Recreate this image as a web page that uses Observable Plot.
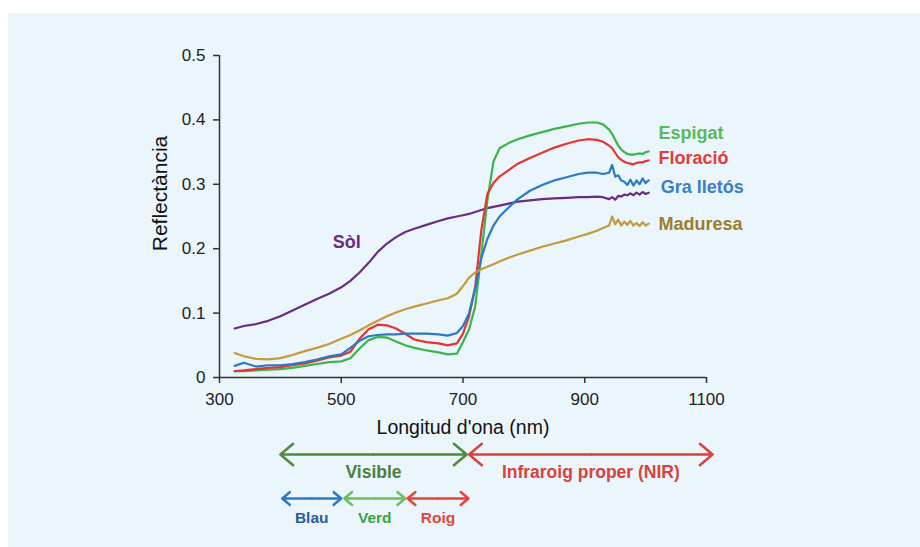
<!DOCTYPE html>
<html>
<head>
<meta charset="utf-8">
<script src="https://cdn.jsdelivr.net/npm/d3@7"></script>
<script src="https://cdn.jsdelivr.net/npm/@observablehq/plot@0.6"></script>
<style>
  html, body { margin: 0; padding: 0; background: #fff; }
  #wrap { position: relative; width: 920px; height: 547px; background: #fff; overflow: hidden; font-family: "Liberation Sans", Arial, sans-serif; }
  #bg { position: absolute; left: 8px; top: 13px; right: 0; bottom: 0; background: #eaf5fc; }
  #p1, #p2 { position: absolute; left: 0; }
  #p1 { top: 0; }
  #p2 { top: 420px; }
  svg { overflow: visible; }
</style>
</head>
<body>
<div id="wrap"><div id="bg"></div><div id="p1"></div><div id="p2"></div></div>
<script>
// ---------- data ----------
const wavelength = [325, 340, 360, 380, 400, 420, 440, 460, 480, 500, 515, 530, 545, 560, 575, 590, 605, 620, 640, 660, 675, 690, 700, 710, 720, 730, 740, 750, 760, 775, 790, 810, 830, 850, 870, 890, 905, 920, 930, 940, 945, 950, 955, 960, 965, 970, 975, 980, 985, 990, 995, 1000, 1005];

const sol = [.076,.080,.083,.088,.095, .104,.113,.122,.130,.140, .150,.163,.178,.195,.208, .218,.226,.231,.237,.243, .247,.250,.252,.254,.257, .260,.263,.265,.267,.270, .273,.275,.277,.278,.279, .280,.280,.281,.280,.277, .280,.276,.282,.281,.284, .283,.286,.283,.287,.284, .288,.285,.287];

const espigat = [.010,.010,.011,.012,.013, .015,.018,.021,.024,.025, .030,.045,.058,.063,.062, .056,.050,.046,.042,.039, .036,.037,.055,.075,.110, .190,.275,.335,.356,.364, .370,.376,.381,.386,.390, .394,.396,.396,.393,.385, .378,.369,.360,.354,.350, .347,.346,.346,.347,.348, .347,.350,.351];

const floracio = [.010,.011,.013,.015,.016, .019,.022,.026,.031,.034, .040,.060,.075,.082,.081, .076,.068,.059,.055,.053, .050,.053,.068,.095,.140, .228,.285,.302,.312,.322, .332,.341,.349,.357,.363, .368,.370,.369,.366,.360, .356,.349,.342,.338,.335, .333,.332,.331,.333,.334, .334,.336,.337];

const graLletos = [.018,.023,.017,.019,.019, .021,.024,.028,.033,.036, .046,.057,.064,.066,.067, .067,.068,.068,.068,.067, .065,.069,.080,.100,.138, .185,.215,.236,.250,.264, .277,.290,.299,.306,.311, .316,.318,.318,.316,.318, .330,.312,.314,.306,.304, .299,.307,.298,.306,.300, .309,.302,.306];

const maduresa = [.038,.033,.029,.028,.030, .035,.041,.046,.052,.060, .066,.073,.081,.088,.095, .101,.106,.110,.115,.120, .123,.130,.142,.155,.163, .168,.172,.176,.180,.186, .191,.197,.203,.208,.213, .219,.223,.228,.232,.236, .250,.238,.245,.236,.242, .237,.243,.236,.240,.235, .241,.236,.239];

const seriesNames = ["Sòl", "Espigat", "Floració", "Gra lletós", "Maduresa"];
const seriesValues = [sol, espigat, floracio, graLletos, maduresa];
// label anchors in data units (nm, reflectance)
const labelWavelength = [509, 1021, 1021, 1025, 1021];
const labelReflectance = [0.210, 0.379, 0.340, 0.295, 0.238];

const xTicks = [300, 500, 700, 900, 1100];
const yTicks = [0, 0.1, 0.2, 0.3, 0.4, 0.5];

const regionNames = ["Visible", "Infraroig proper (NIR)"];
const regionStart = [400, 710];
const regionEnd = [706, 1110];
const bandNames = ["Blau", "Verd", "Roig"];
const bandStart = [403, 505, 609];
const bandEnd = [500, 605, 709];

// ---------- styles ----------
const lineColors = ["#6a2c80", "#3bb54a", "#e8332f", "#2b79c2", "#c49a3c"];
const labelColors = ["#6a2c80", "#5cb85c", "#e53a35", "#3a7fc4", "#9c7d2e"];
const regionArrowColors = ["#4f8a3e", "#d9423a"];
const regionLabelColors = ["#4e7f3c", "#d9423a"];
const bandArrowColors = ["#2f7bc2", "#6cc05e", "#e8433b"];
const bandLabelColors = ["#2c5a98", "#3aa24c", "#e4463e"];

const FONT = "Liberation Sans, Arial, sans-serif";

// ---------- build tables ----------
const lines = seriesNames.map((name, s) =>
  wavelength.map((w, i) => ({name, x: w, y: seriesValues[s][i], s})));
const labels = seriesNames.map((name, s) => ({name, x: labelWavelength[s], y: labelReflectance[s], s}));

const xDomain = [300, 1100];
const W = 920, ML = 219, MR = 214;

const marks1 = [];
lines.forEach((d, s) => {
  marks1.push(Plot.line(d, {x: "x", y: "y", stroke: lineColors[s], strokeWidth: 2.2, strokeLinejoin: "round"}));
});
marks1.push(
  Plot.ruleX([300], {y1: 0, y2: 0.5, stroke: "#333", strokeWidth: 1.5}),
  Plot.ruleY([0], {x1: 300, x2: 1100, stroke: "#333", strokeWidth: 1.5}),
  Plot.axisY({ticks: yTicks, tickSize: 6, tickPadding: 8, fontSize: 17, label: null,
    tickFormat: d => d === 0 ? "0" : d.toFixed(1), stroke: "#333", strokeWidth: 1.5, fill: "#222"}),
  Plot.axisX({ticks: xTicks, tickSize: 6, tickPadding: 9, fontSize: 17, label: null,
    tickFormat: d => String(d), stroke: "#333", strokeWidth: 1.5, fill: "#222"}),
  Plot.text(labels.filter(d => d.s === 0), {x: "x", y: "y", text: "name", fill: d => labelColors[d.s],
    fontSize: 18, fontWeight: "bold", textAnchor: "middle"}),
  Plot.text(labels.filter(d => d.s > 0), {x: "x", y: "y", text: "name", fill: d => labelColors[d.s],
    fontSize: 18, fontWeight: "bold", textAnchor: "start"}),
  Plot.text(["Reflectància"], {frameAnchor: "left", textAnchor: "middle", lineAnchor: "middle",
    rotate: -90, dx: -59, dy: -23, fontSize: 21, fill: "#111"}),
  Plot.text(["Longitud d'ona (nm)"], {frameAnchor: "bottom", textAnchor: "middle", lineAnchor: "middle",
    dy: 50, fontSize: 19.5, fill: "#111"})
);

const plot1 = Plot.plot({
  width: W, height: 440,
  marginLeft: ML, marginRight: MR, marginTop: 55, marginBottom: 63,
  x: {domain: xDomain, axis: null},
  y: {domain: [0, 0.5], axis: null},
  style: {background: "transparent", fontFamily: FONT, overflow: "visible"},
  marks: marks1
});
document.getElementById("p1").appendChild(plot1);

// ---------- arrows ----------
const arrowRows = [];
const arrowLabels = [];
regionNames.forEach((n, i) => {
  const mid = (regionStart[i] + regionEnd[i]) / 2;
  arrowRows.push({x1: mid, x2: regionStart[i], row: "regions", c: regionArrowColors[i]});
  arrowRows.push({x1: mid, x2: regionEnd[i], row: "regions", c: regionArrowColors[i]});
  arrowLabels.push({x: mid, row: "regions", text: n, c: regionLabelColors[i]});
});
bandNames.forEach((n, i) => {
  const mid = (bandStart[i] + bandEnd[i]) / 2;
  arrowRows.push({x1: mid, x2: bandStart[i], row: "bands", c: bandArrowColors[i]});
  arrowRows.push({x1: mid, x2: bandEnd[i], row: "bands", c: bandArrowColors[i]});
  arrowLabels.push({x: mid, row: "bands", text: n, c: bandLabelColors[i]});
});

const plot2 = Plot.plot({
  width: W, height: 127,
  marginLeft: ML, marginRight: MR, marginTop: 34, marginBottom: 49,
  x: {domain: xDomain, axis: null},
  y: {type: "point", domain: ["regions", "bands"], padding: 0, axis: null},
  style: {background: "transparent", fontFamily: FONT, overflow: "visible"},
  marks: [
    Plot.arrow(arrowRows, {x1: "x1", x2: "x2", y1: "row", y2: "row", stroke: d => d.c,
      strokeWidth: 2.5, headLength: 10, headAngle: 80, bend: 0, clip: false}),
    Plot.text(arrowLabels.filter(d => d.row === "regions"), {x: "x", y: "row", text: "text", fill: d => d.c,
      fontSize: 17.5, fontWeight: "bold", dy: 18, lineAnchor: "middle"}),
    Plot.text(arrowLabels.filter(d => d.row === "bands"), {x: "x", y: "row", text: "text", fill: d => d.c,
      fontSize: 15.5, fontWeight: "bold", dy: 20, lineAnchor: "middle"})
  ]
});
document.getElementById("p2").appendChild(plot2);
</script>
</body>
</html>
